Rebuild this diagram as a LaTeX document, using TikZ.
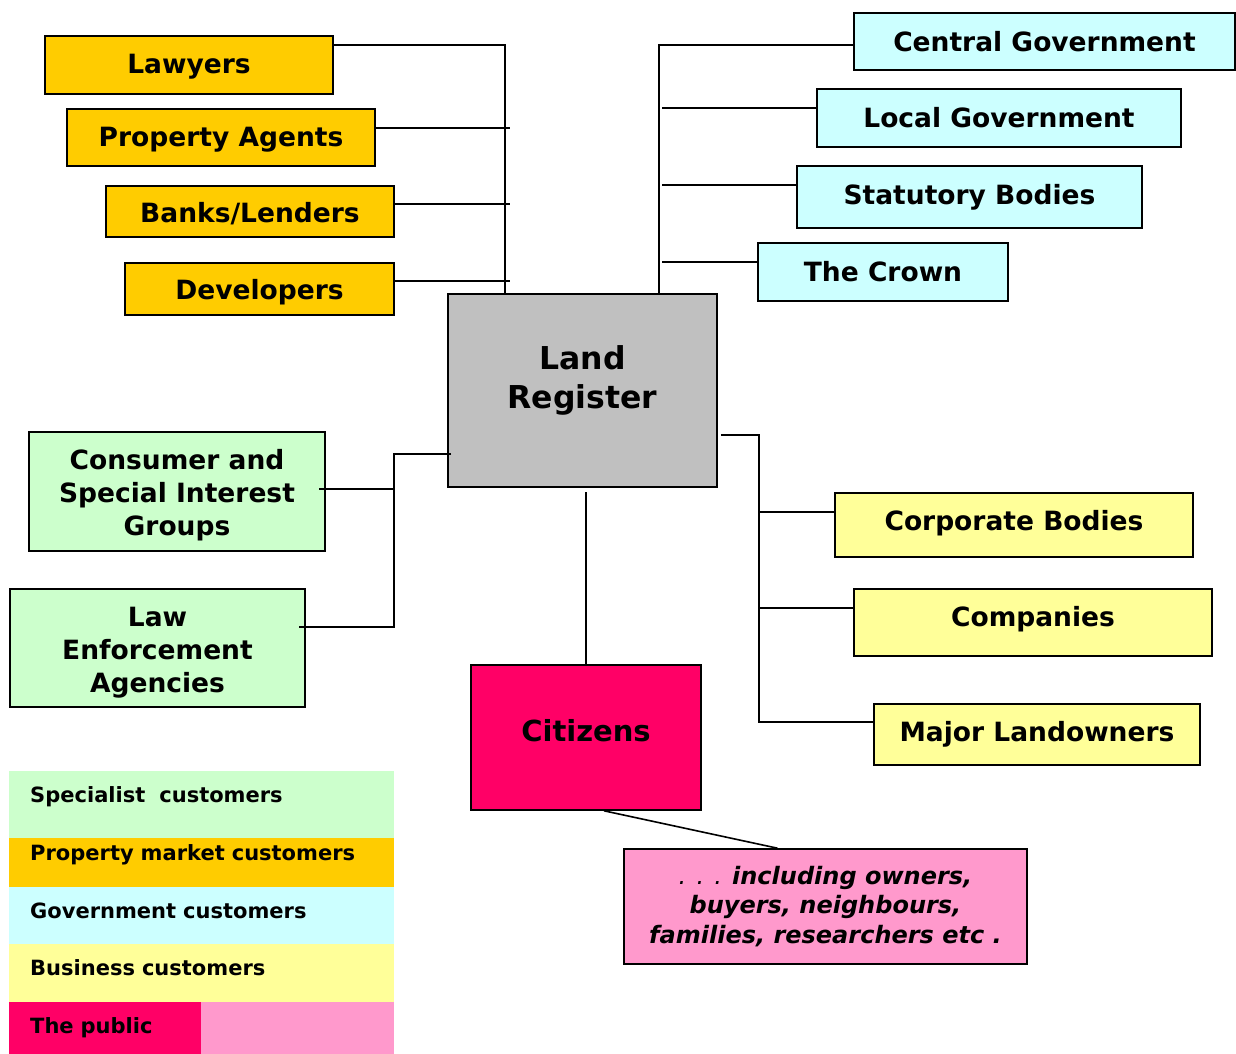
\documentclass[tikz,border=0pt]{standalone}
\usepackage{fontspec}
\setmainfont{DejaVu Sans}
\usetikzlibrary{calc}
\definecolor{cOrange}{HTML}{FFCC00}
\definecolor{cCyan}{HTML}{CCFFFF}
\definecolor{cGreen}{HTML}{CCFFCC}
\definecolor{cYellow}{HTML}{FFFF99}
\definecolor{cRed}{HTML}{FF0066}
\definecolor{cPink}{HTML}{FF99CC}
\definecolor{cGray}{HTML}{C0C0C0}
\tikzset{
  bx/.style={draw=black, line width=1.6pt, inner sep=0pt, align=center,
    font=\fontsize{26.5}{33}\selectfont\bfseries},
  conn/.style={draw=black, line width=1.6pt},
  lg/.style={draw=none, inner sep=0pt, inner xsep=21pt, align=left, anchor=north west,
    font=\fontsize{21}{25}\selectfont\bfseries},
  th/.style 2 args={text height=#1pt, text depth=#2pt},
}
\begin{document}
\begin{tikzpicture}[x=1pt,y=-1pt]
\useasboundingbox (0,0) rectangle (1236,1054);
% property market
\node[bx, fill=cOrange, minimum width=288pt, minimum height=58pt, th={37.7}{20.3}] (lw) at (189,65) {Lawyers};
\node[bx, fill=cOrange, minimum width=308pt, minimum height=57pt, th={37.7}{19.3}] (pa) at (221,137.5) {Property Agents};
\node[bx, fill=cOrange, minimum width=288pt, minimum height=51pt, th={36.7}{14.3}] (bk) at (250,211.5) {Banks/Lenders};
\node[bx, fill=cOrange, minimum width=269pt, minimum height=52pt, th={36.7}{15.3}] (dv) at (259.5,289) {Developers};
% government
\node[bx, fill=cCyan, minimum width=381pt, minimum height=57pt] (cg) at (1044.5,41.5) {Central Government};
\node[bx, fill=cCyan, minimum width=364pt, minimum height=58pt] (lgv) at (999,118) {Local Government};
\node[bx, fill=cCyan, minimum width=345pt, minimum height=62pt] (sb) at (969.5,197) {Statutory Bodies};
\node[bx, fill=cCyan, minimum width=250pt, minimum height=58pt] (cr) at (883,272) {The Crown};
% land register
\node[bx, fill=cGray, minimum width=269pt, minimum height=193pt,
  font=\fontsize{31.5}{39}\selectfont\bfseries, th={93}{100}]
  (lr) at (582.5,390.5) {\begin{tabular}{@{}c@{}}Land\\Register\end{tabular}};
% specialist
\node[bx, fill=cGreen, minimum width=296pt, minimum height=119pt] (cs) at (177,491.5)
  {\rule{0pt}{28pt}Consumer and\\Special Interest\\Groups};
\node[bx, fill=cGreen, minimum width=295pt, minimum height=118pt] (le) at (157.5,648)
  {\rule{0pt}{28pt}Law\\Enforcement\\Agencies};
% business
\node[bx, fill=cYellow, minimum width=358pt, minimum height=64pt, th={37.7}{26.3}] (cb) at (1014,525) {Corporate Bodies};
\node[bx, fill=cYellow, minimum width=358pt, minimum height=67pt, th={37.7}{29.3}] (co) at (1033,622.5) {Companies};
\node[bx, fill=cYellow, minimum width=326pt, minimum height=61pt] (ml) at (1037,734.5) {Major Landowners};
% public
\node[bx, fill=cRed, minimum width=230pt, minimum height=145pt,
  font=\fontsize{29}{35}\selectfont\bfseries, th={76.6}{68.4}] (ct) at (586,737.5) {Citizens};
\node[bx, fill=cPink, minimum width=403pt, minimum height=115pt,
  font=\fontsize{24}{29.5}\selectfont\bfseries] (nt) at (825.5,906.5)
  {\normalfont\itshape . . . \bfseries including owners,\\\bfseries\itshape buyers, neighbours,\\\bfseries\itshape families, researchers etc .};

% connectors: left top
\coordinate (lwJ) at (505,45);
\coordinate (paJ) at (510,128);
\coordinate (bkJ) at (510,204);
\coordinate (dvJ) at (510,281);
\draw[conn] (lw.east |- lwJ) -- (lwJ) -- (lwJ |- lr.north);
\draw[conn] (pa.east |- paJ) -- (paJ);
\draw[conn] (bk.east |- bkJ) -- (bkJ);
\draw[conn] (dv.east |- dvJ) -- (dvJ);
% connectors: right top
\coordinate (cgJ) at (659,45);
\coordinate (lgJ) at (662,108);
\coordinate (sbJ) at (662,185);
\coordinate (crJ) at (662,262);
\draw[conn] (cg.west |- cgJ) -- (cgJ) -- (cgJ |- lr.north);
\draw[conn] (lgJ) -- (lgJ -| lgv.west);
\draw[conn] (sbJ) -- (sbJ -| sb.west);
\draw[conn] (crJ) -- (crJ -| cr.west);
% connectors: left bottom
\coordinate (gA) at (394,454);
\coordinate (gB) at (394,489);
\coordinate (gC) at (394,627);
\draw[conn] ($(lr.west |- gA)+(4,0)$) -- (gA) -- (gC) -- ($(le.east |- gC)+(-7,0)$);
\draw[conn] (gB) -- ($(cs.east |- gB)+(-7,0)$);
% connectors: right bottom
\coordinate (rA) at (759,435);
\coordinate (rB) at (759,512);
\coordinate (rC) at (759,608);
\coordinate (rD) at (759,722);
\draw[conn] ($(lr.east |- rA)+(3,0)$) -- (rA) -- (rD) -- (rD -| ml.west);
\draw[conn] (rB) -- (rB -| cb.west);
\draw[conn] (rC) -- (rC -| co.west);
% citizens
\coordinate (ctJ) at (586,492);
\draw[conn] (ct.north) -- (ctJ);
\draw[conn] ([xshift=18pt]ct.south) -- ([xshift=-48pt]nt.north);

% legend
\node[lg, fill=cGreen, minimum width=385pt, text width=343pt, th={31.7}{35.3}] (l1) at (9,771) {Specialist\ \ customers};
\node[lg, fill=cOrange, minimum width=385pt, text width=343pt, th={22.7}{26.3}] (l2) at (9,838) {Property market customers};
\node[lg, fill=cCyan, minimum width=385pt, text width=343pt, th={31.7}{25.3}] (l3) at (9,887) {Government customers};
\node[lg, fill=cYellow, minimum width=385pt, text width=343pt, th={31.7}{26.3}] (l4) at (9,944) {Business customers};
\node[lg, fill=cRed, minimum width=192pt, text width=150pt, th={31.7}{20.3}] (l5) at (9,1002) {The public};
\node[lg, fill=cPink, minimum width=193pt, minimum height=52pt, inner xsep=0pt] (l6) at (201,1002) {};
\end{tikzpicture}
\end{document}
